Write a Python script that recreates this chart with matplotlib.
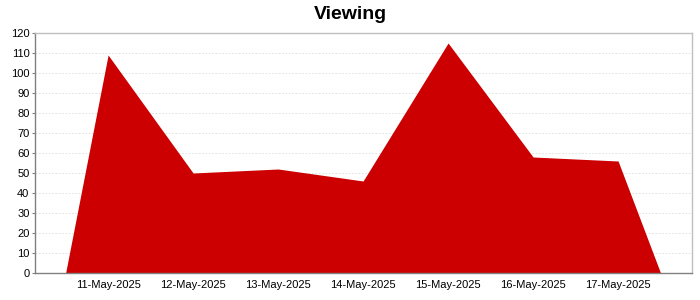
import numpy as np
import matplotlib
matplotlib.use("Agg")
import matplotlib.pyplot as plt

plt.rcParams['font.family'] = ['Liberation Sans', 'DejaVu Sans']

dates = ['11-May-2025', '12-May-2025', '13-May-2025', '14-May-2025',
         '15-May-2025', '16-May-2025', '17-May-2025']
views = [109, 50, 52, 46, 115, 58, 56]

fig = plt.figure(figsize=(7, 3), dpi=100)
ax = fig.add_axes([0.05, 0.09, 0.9386, 0.80])

# area runs from half a category before the first to half after the last
x = np.arange(len(dates))
xs = np.concatenate([[x[0] - 0.5], x, [x[-1] + 0.5]])
ys = np.concatenate([[0], views, [0]])
ax.fill_between(xs, ys, 0, color='#CC0000', linewidth=0, zorder=2)

ax.set_xlim(-0.86, len(dates) - 1 + 0.87)
ax.set_ylim(0, 120)
ax.set_yticks(np.arange(0, 121, 10))
ax.set_xticks(x)
ax.set_xticklabels(dates)

ax.yaxis.grid(True, color='#dcdcdc', linestyle=(0, (2, 2)), linewidth=0.6, zorder=1)
ax.tick_params(axis='y', labelsize=8, length=2, color='#808080', pad=2)
ax.tick_params(axis='x', labelsize=8, length=0, pad=5)

for s in ['left', 'bottom']:
    ax.spines[s].set_color('#808080')
    ax.spines[s].set_linewidth(1)
for s in ['top', 'right']:
    ax.spines[s].set_color('#c0c0c0')
    ax.spines[s].set_linewidth(1)

fig.suptitle('Viewing', fontsize=14, fontweight='bold', y=0.98)

fig.savefig('out.png', dpi=100)
